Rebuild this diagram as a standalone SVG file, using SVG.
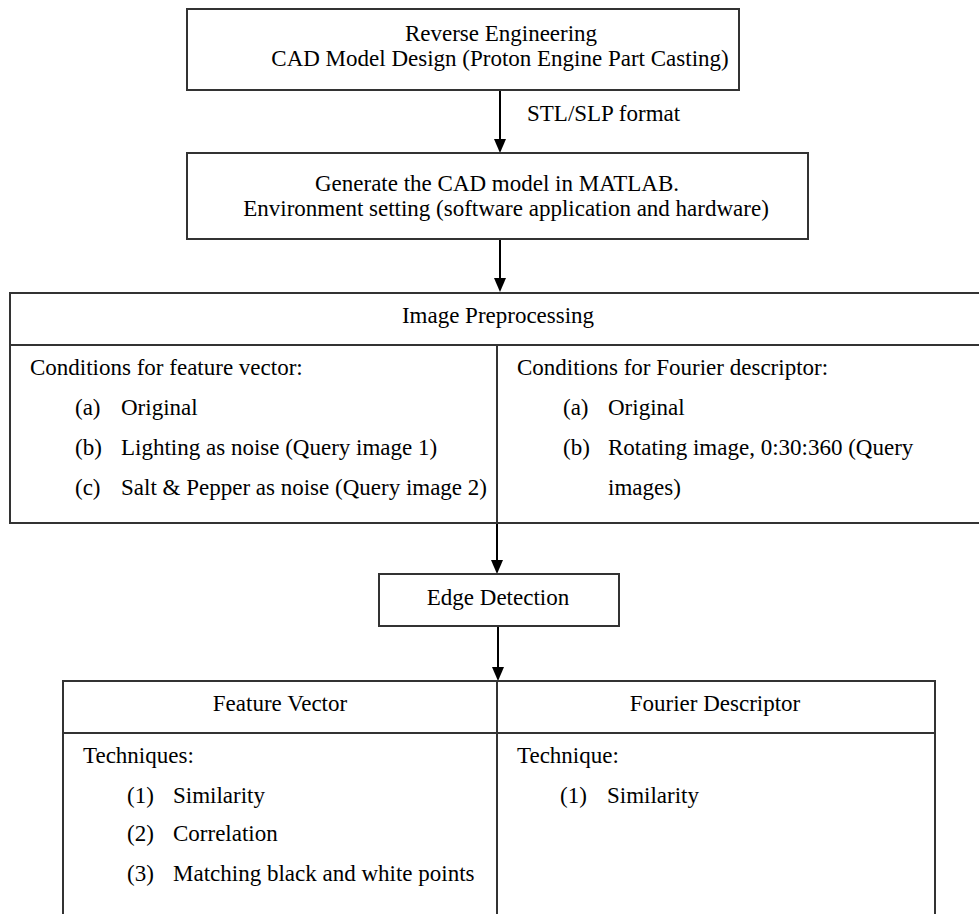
<svg xmlns="http://www.w3.org/2000/svg" width="979" height="914" viewBox="0 0 979 914">
<style>
.box{fill:#fff;stroke:#333;stroke-width:2}
.ln{stroke:#333;stroke-width:2;fill:none}
.con{stroke:#000;stroke-width:2;fill:none}
.t{font-family:'Liberation Serif','DejaVu Serif','Times New Roman',serif;font-size:23px;fill:#000}
.c{text-anchor:middle}
</style>
<rect width="979" height="914" fill="#fff"/>
<g id="connectors">
<line class="con" x1="500" y1="90" x2="500" y2="140"/>
<line class="con" x1="500" y1="239" x2="500" y2="279"/>
<line class="con" x1="497" y1="523" x2="497" y2="561"/>
<line class="con" x1="498" y1="626" x2="498" y2="668"/>
<path d="M494,139 L506,139 L500,153 Z" fill="#000"/>
<path d="M494,278 L506,278 L500,292 Z" fill="#000"/>
<path d="M491,560 L503,560 L497,574 Z" fill="#000"/>
<path d="M492,667 L504,667 L498,681 Z" fill="#000"/>
<text class="t" x="527" y="121" font-family="Liberation Serif, serif">STL/SLP format</text>
</g>
<g id="reverse-engineering" class="t" font-family="Liberation Serif, serif">
<rect class="box" x="187" y="9" width="552" height="81"/>
<text class="c" x="501" y="41">Reverse Engineering</text>
<text class="c" x="500" y="66">CAD Model Design (Proton Engine Part Casting)</text>
</g>
<g id="generate-cad" class="t" font-family="Liberation Serif, serif">
<rect class="box" x="187" y="153" width="621" height="86"/>
<text class="c" x="497" y="191">Generate the CAD model in MATLAB.</text>
<text class="c" x="506" y="216">Environment setting (software application and hardware)</text>
</g>
<g id="image-preprocessing" class="t" font-family="Liberation Serif, serif">
<rect class="box" x="10" y="293" width="980" height="230"/>
<line class="ln" x1="10" y1="345" x2="979" y2="345"/>
<line class="ln" x1="497" y1="345" x2="497" y2="523"/>
<text class="c" x="498" y="323">Image Preprocessing</text>
<text x="30" y="375">Conditions for feature vector:</text>
<text x="75" y="415">(a)</text><text x="121" y="415">Original</text>
<text x="75" y="455">(b)</text><text x="121" y="455">Lighting as noise (Query image 1)</text>
<text x="75" y="495">(c)</text><text x="121" y="495">Salt &amp; Pepper as noise (Query image 2)</text>
<text x="517" y="375">Conditions for Fourier descriptor:</text>
<text x="563" y="415">(a)</text><text x="608" y="415">Original</text>
<text x="563" y="455">(b)</text><text x="608" y="455">Rotating image, 0:30:360 (Query</text>
<text x="608" y="495">images)</text>
</g>
<g id="edge-detection" class="t" font-family="Liberation Serif, serif">
<rect class="box" x="379" y="574" width="240" height="52"/>
<text class="c" x="498" y="605">Edge Detection</text>
</g>
<g id="techniques" class="t" font-family="Liberation Serif, serif">
<path class="ln" d="M63,920 L63,681 L935,681 L935,920"/>
<line class="ln" x1="63" y1="733" x2="935" y2="733"/>
<line class="ln" x1="497" y1="681" x2="497" y2="914"/>
<text class="c" x="280" y="711">Feature Vector</text>
<text class="c" x="715" y="711">Fourier Descriptor</text>
<text x="83" y="763">Techniques:</text>
<text x="127" y="803">(1)</text><text x="173" y="803">Similarity</text>
<text x="127" y="841">(2)</text><text x="173" y="841">Correlation</text>
<text x="127" y="881">(3)</text><text x="173" y="881">Matching black and white points</text>
<text x="517" y="763">Technique:</text>
<text x="560" y="803">(1)</text><text x="607" y="803">Similarity</text>
</g>
</svg>
